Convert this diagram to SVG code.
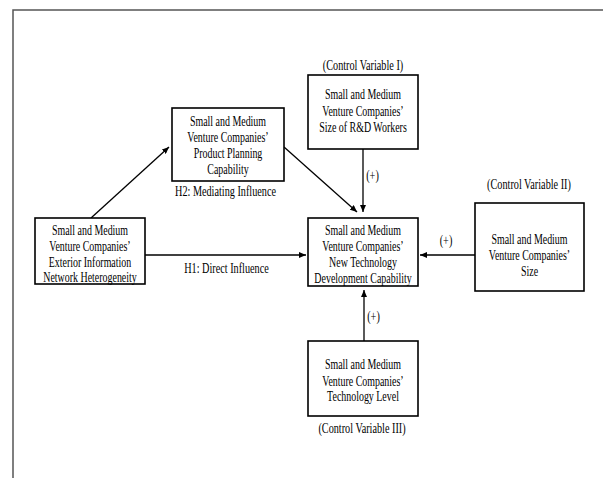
<svg xmlns="http://www.w3.org/2000/svg" width="603" height="478" viewBox="0 0 603 478">
<style>
.box{fill:#fff;stroke:#000;stroke-width:1.6}
.t{font-family:"Liberation Serif","Times New Roman",serif;font-size:14px;fill:#000;text-anchor:middle}
.c{fill:none;stroke:#000;stroke-width:1.3}
.frame{fill:none;stroke:#555;stroke-width:1.5}
</style>
<defs>
<marker id="ah" markerUnits="userSpaceOnUse" markerWidth="7" markerHeight="6" refX="7" refY="3" orient="auto">
<path d="M0,0 L7,3 L0,6 z" fill="#000"/>
</marker>
</defs>
<rect width="603" height="478" fill="#fff"/>
<path class="frame" d="M13,478 L13,10 L603,10"/>
<g id="connectors">
<line class="c" x1="91" y1="218" x2="169" y2="147" marker-end="url(#ah)"/>
<line class="c" x1="284" y1="147" x2="357" y2="212" marker-end="url(#ah)"/>
<line class="c" x1="363" y1="149" x2="363" y2="212" marker-end="url(#ah)"/>
<line class="c" x1="145" y1="255" x2="306" y2="255" marker-end="url(#ah)"/>
<line class="c" x1="475" y1="255" x2="420" y2="255" marker-end="url(#ah)"/>
<line class="c" x1="364" y1="341" x2="364" y2="290" marker-end="url(#ah)"/>
<text class="t" transform="translate(225.5,196) scale(0.73,1)">H2: Mediating Influence</text>
<text class="t" transform="translate(226.5,273) scale(0.73,1)">H1: Direct Influence</text>
<text class="t" transform="translate(372.5,180) scale(0.73,1)">(+)</text>
<text class="t" transform="translate(446,245) scale(0.73,1)">(+)</text>
<text class="t" transform="translate(373.5,321) scale(0.73,1)">(+)</text>
</g>
<g id="exterior">
<rect class="box" x="35" y="218" width="110" height="66"/>
<text class="t" transform="translate(90,235) scale(0.71,1)">Small and Medium</text>
<text class="t" transform="translate(90,251) scale(0.71,1)">Venture Companies’</text>
<text class="t" transform="translate(90,267) scale(0.71,1)">Exterior Information</text>
<text class="t" transform="translate(90,282) scale(0.71,1)">Network Heterogeneity</text>
</g>
<g id="planning">
<rect class="box" x="172" y="108" width="112" height="73"/>
<text class="t" transform="translate(228,126) scale(0.71,1)">Small and Medium</text>
<text class="t" transform="translate(228,142) scale(0.71,1)">Venture Companies’</text>
<text class="t" transform="translate(228,158) scale(0.71,1)">Product Planning</text>
<text class="t" transform="translate(228,174) scale(0.71,1)">Capability</text>
</g>
<g id="rd">
<text class="t" transform="translate(363,70) scale(0.73,1)">(Control Variable I)</text>
<rect class="box" x="308" y="75" width="110" height="74"/>
<text class="t" transform="translate(363,99) scale(0.71,1)">Small and Medium</text>
<text class="t" transform="translate(363,116) scale(0.71,1)">Venture Companies’</text>
<text class="t" transform="translate(363,132) scale(0.71,1)">Size of R&amp;D Workers</text>
</g>
<g id="newtech">
<rect class="box" x="308" y="218" width="110" height="68"/>
<text class="t" transform="translate(363,235) scale(0.71,1)">Small and Medium</text>
<text class="t" transform="translate(363,251) scale(0.71,1)">Venture Companies’</text>
<text class="t" transform="translate(363,267) scale(0.71,1)">New Technology</text>
<text class="t" transform="translate(363,283) scale(0.71,1)">Development  Capability</text>
</g>
<g id="size">
<text class="t" transform="translate(529,189) scale(0.73,1)">(Control Variable II)</text>
<rect class="box" x="475" y="203" width="109" height="88"/>
<text class="t" transform="translate(529.5,244) scale(0.71,1)">Small and Medium</text>
<text class="t" transform="translate(529.5,260) scale(0.71,1)">Venture Companies’</text>
<text class="t" transform="translate(529.5,276) scale(0.71,1)">Size</text>
</g>
<g id="techlevel">
<rect class="box" x="308" y="341" width="110" height="75"/>
<text class="t" transform="translate(363,369) scale(0.71,1)">Small and Medium</text>
<text class="t" transform="translate(363,386) scale(0.71,1)">Venture Companies’</text>
<text class="t" transform="translate(363,401) scale(0.71,1)">Technology  Level</text>
<text class="t" transform="translate(362,433) scale(0.73,1)">(Control Variable III)</text>
</g>
</svg>
